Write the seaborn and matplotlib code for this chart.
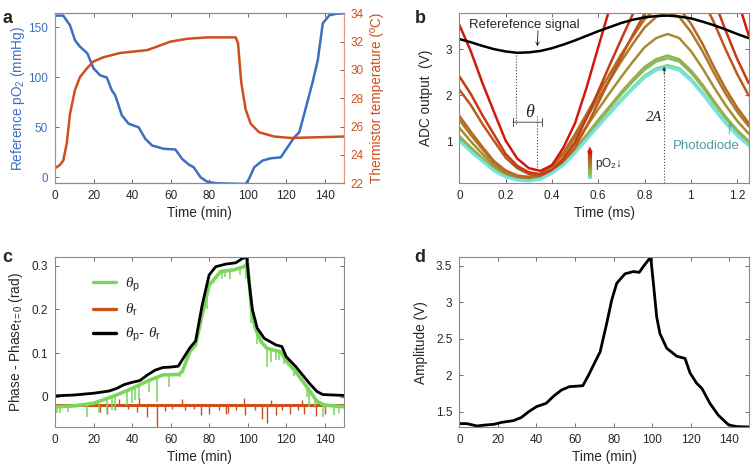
import numpy as np
import pandas as pd
import matplotlib
matplotlib.use('Agg')
import matplotlib.pyplot as plt
import seaborn as sns
from matplotlib.ticker import FuncFormatter
from matplotlib.collections import LineCollection

sns.set_theme(style='ticks')
plt.rcParams['font.family'] = ['Liberation Sans', 'DejaVu Sans']
plt.rcParams['mathtext.fontset'] = 'custom'
plt.rcParams['mathtext.rm'] = 'Liberation Sans'
plt.rcParams['mathtext.it'] = 'Liberation Serif:italic'
plt.rcParams['mathtext.bf'] = 'Liberation Sans:bold'

# ---------------- data ----------------
# a: reference pO2 and thermistor temperature
t_po2 = [0, 4.3, 7.8, 10.4, 13, 16.8, 20, 23.4, 26.9, 29.5, 31.3, 34.7, 38.2, 43.4, 46.9,
         50.4, 56.5, 62.5, 66, 69.5, 72, 75.6, 79, 84, 99, 100.7, 103.4, 107.7, 112,
         117.2, 120.7, 124.2, 126.8, 129.4, 133.7, 136.4, 139, 142.4, 146, 150]
po2 = [161.7, 161.7, 152, 137, 130.6, 124, 109, 102, 99.8, 87, 82, 62, 53.6, 50, 38.5,
       31.8, 28.5, 27.8, 18.4, 12.7, 10, 0, -4.4, -6, -6.7, -1.7, 10, 16.7, 19,
       20, 30, 40, 45, 63.6, 95, 117, 154, 162, 163.5, 164]
t_temp = [0, 2.6, 4.3, 6.1, 7.8, 10.4, 13, 16.5, 20, 25.2, 33.9, 40.8, 47.8, 53, 59.9,
          68.6, 79, 93.8, 95, 96.7, 99, 101.6, 106, 113.8, 122.5, 150]
temp = [23.06, 23.3, 23.6, 24.8, 26.9, 28.6, 29.5, 30.1, 30.6, 30.9, 31.2, 31.3, 31.4,
        31.65, 32.0, 32.2, 32.3, 32.3, 31.9, 29.1, 27.2, 26.2, 25.6, 25.3, 25.2, 25.3]

# b: ADC waveforms (ms)
t_ms = [0.00, 0.05, 0.10, 0.15, 0.20, 0.25, 0.30, 0.35, 0.40, 0.45, 0.50, 0.55, 0.60,
        0.65, 0.70, 0.75, 0.80, 0.85, 0.90, 0.95, 1.00, 1.05, 1.10, 1.15, 1.20, 1.25]
ref_signal = [3.22, 3.15, 3.07, 3.00, 2.95, 2.92, 2.93, 2.96, 3.02, 3.10, 3.19, 3.29, 3.39,
              3.48, 3.57, 3.64, 3.69, 3.72, 3.73, 3.71, 3.67, 3.60, 3.52, 3.43, 3.33, 3.24]
pd_traces = [
    [1.00, 0.77, 0.56, 0.35, 0.22, 0.15, 0.13, 0.17, 0.30, 0.48, 0.74, 1.03, 1.32,
     1.60, 1.88, 2.14, 2.38, 2.54, 2.61, 2.54, 2.32, 2.03, 1.70, 1.39, 1.12, 0.90],
    [1.02, 0.79, 0.57, 0.36, 0.23, 0.16, 0.14, 0.18, 0.31, 0.49, 0.76, 1.05, 1.34,
     1.63, 1.91, 2.17, 2.42, 2.58, 2.65, 2.58, 2.36, 2.06, 1.73, 1.41, 1.14, 0.92],
    [1.08, 0.83, 0.61, 0.39, 0.25, 0.17, 0.15, 0.19, 0.33, 0.52, 0.80, 1.11, 1.42,
     1.72, 2.02, 2.30, 2.55, 2.73, 2.80, 2.73, 2.49, 2.18, 1.83, 1.50, 1.21, 0.97],
    [1.11, 0.86, 0.63, 0.40, 0.26, 0.18, 0.16, 0.20, 0.35, 0.54, 0.82, 1.14, 1.46,
     1.76, 2.07, 2.35, 2.61, 2.78, 2.86, 2.78, 2.54, 2.23, 1.87, 1.53, 1.24, 1.00],
    [1.29, 0.99, 0.72, 0.46, 0.29, 0.21, 0.18, 0.23, 0.40, 0.62, 0.95, 1.32, 1.69,
     2.05, 2.40, 2.73, 3.04, 3.24, 3.33, 3.24, 2.96, 2.59, 2.17, 1.78, 1.44, 1.16],
    [1.46, 1.13, 0.82, 0.52, 0.33, 0.23, 0.20, 0.26, 0.45, 0.71, 1.09, 1.51, 1.93,
     2.33, 2.74, 3.12, 3.47, 3.70, 3.80, 3.70, 3.38, 2.96, 2.48, 2.03, 1.64, 1.32],
    [1.55, 1.20, 0.87, 0.56, 0.36, 0.25, 0.22, 0.28, 0.48, 0.75, 1.15, 1.59, 2.03,
     2.46, 2.89, 3.28, 3.65, 3.89, 4.00, 3.89, 3.56, 3.12, 2.61, 2.14, 1.73, 1.39],
    [2.12, 1.78, 1.37, 1.00, 0.64, 0.41, 0.28, 0.25, 0.32, 0.55, 0.86, 1.32, 1.83,
     2.34, 2.83, 3.32, 3.77, 4.20, 4.48, 4.60, 4.48, 4.09, 3.58, 3.00, 2.46, 1.99],
    [2.41, 2.02, 1.56, 1.14, 0.72, 0.46, 0.32, 0.28, 0.36, 0.62, 0.98, 1.50, 2.08,
     2.66, 3.22, 3.77, 4.29, 4.77, 5.09, 5.23, 5.09, 4.65, 4.07, 3.41, 2.79, 2.26],
    [3.53, 2.95, 2.26, 1.63, 1.01, 0.62, 0.41, 0.35, 0.47, 0.86, 1.39, 2.17, 3.04,
     3.90, 4.74, 5.57, 6.34, 7.06, 7.54, 7.75, 7.54, 6.88, 6.02, 5.03, 4.11, 3.30],
]
trace_colors = ['#74E3E3', '#86D070', '#7DBF62', '#98AE4C', '#A88C34', '#AE7A28',
                '#B56A22', '#BC581D', '#C63A16', '#D01A10']

# c: phase
t_diff = [0, 10, 20, 28, 32, 36, 40, 44, 48, 52, 56, 60, 64, 66, 70, 73, 76.4, 80, 83.4,
          88.6, 93.8, 97.3, 99.5, 100.7, 102.5, 105, 108.6, 114.6, 117.8, 120, 125, 132,
          136, 139, 150]
phase_diff = [0.002, 0.004, 0.008, 0.013, 0.019, 0.028, 0.033, 0.037, 0.050, 0.061, 0.067,
              0.068, 0.070, 0.084, 0.112, 0.128, 0.210, 0.279, 0.298, 0.304, 0.307, 0.317,
              0.320, 0.264, 0.199, 0.157, 0.134, 0.119, 0.115, 0.092, 0.069, 0.031, 0.012,
              0.005, 0.003]
t_p = [0, 10, 20, 32, 40, 48, 56, 64, 66, 70, 73, 76, 80, 86, 93, 98, 100, 102, 104, 107,
       110, 117, 121, 125, 132, 136, 140, 150]
phase_p = [-0.023, -0.021, -0.015, 0.004, 0.019, 0.036, 0.050, 0.051, 0.057, 0.103, 0.119,
           0.180, 0.256, 0.287, 0.291, 0.298, 0.306, 0.200, 0.157, 0.126, 0.111, 0.103,
           0.077, 0.057, 0.015, -0.011, -0.019, -0.023]
spike_p_t = [1.2, 2.6, 7, 16.5, 22.6, 27, 29.5, 31, 37.3, 40, 41.7, 43.4, 48.6, 53, 59, 65,
             79, 82.5, 84, 86.9, 88, 91, 96, 99, 102, 105, 110.3, 112, 114.6, 116.4, 119,
             124, 131, 132, 135, 139, 144, 145, 147.6]
spike_p_v = [-0.038, -0.038, -0.034, -0.046, -0.038, -0.038, -0.031, -0.031, -0.019,
             -0.015, -0.008, -0.005, 0.011, -0.011, 0.023, 0.045, 0.200, 0.260, 0.270,
             0.270, 0.275, 0.270, 0.280, 0.270, 0.170, 0.120, 0.069, 0.080, 0.084, 0.085,
             0.075, 0.047, 0.000, -0.023, -0.025, -0.046, -0.023, -0.042, -0.038]
t_r = [0, 150]
phase_r = [-0.018, -0.018]
spike_r_t = [23.5, 27, 31.3, 33, 38, 42.6, 43.7, 47.8, 53, 57.3, 61, 66, 67.7, 72, 75.6,
             79.9, 85, 88.6, 90, 94, 98.3, 98.6, 104, 107.7, 110.3, 112, 114.6, 118, 122,
             126, 128, 129.4, 135.5, 140]
spike_r_v = [-0.034, -0.040, -0.031, -0.005, -0.028, -0.036, -0.003, -0.046, -0.073,
             -0.033, -0.028, -0.005, -0.031, -0.028, -0.042, -0.040, -0.030, -0.039,
             -0.038, -0.030, -0.004, -0.042, -0.030, -0.050, -0.061, -0.008, -0.042,
             -0.030, -0.039, -0.030, -0.008, -0.040, -0.045, -0.040]

# d: amplitude
t_amp = [0, 4, 9, 14, 18, 22, 28, 32, 36, 40, 45, 49, 53, 57, 64, 67, 70, 73, 76.4, 79,
         81.6, 85.9, 90.2, 93.3, 95.4, 99.2, 100.6, 102.3, 104, 107.5, 112.7, 117, 119.6,
         123, 125.7, 130, 134.3, 139.5, 143.8, 150]
amp = [1.336, 1.336, 1.304, 1.318, 1.327, 1.354, 1.377, 1.418, 1.50, 1.569, 1.614, 1.715,
       1.797, 1.842, 1.856, 2.0, 2.162, 2.32, 2.71, 3.03, 3.26, 3.39, 3.42, 3.41, 3.49,
       3.62, 3.26, 2.80, 2.57, 2.37, 2.26, 2.23, 2.03, 1.89, 1.82, 1.61, 1.45, 1.32,
       1.295, 1.29]

BLUE = '#3C6EC4'
RED = '#CF4F1C'
GREEN = '#7BD65C'
SPINE = '#8a8a8a'
TICK_FS = 8.5
LAB_FS = 9.8
fmt = FuncFormatter(lambda v, p: f'{v:g}')


def style(ax, right=True):
    for s in ax.spines.values():
        s.set_color(SPINE)
        s.set_linewidth(0.8)
        s.set_visible(True)
    ax.tick_params(direction='in', length=3, width=0.6, color='#555555', labelsize=TICK_FS,
                   labelcolor='#262626', top=True, right=right, pad=5)
    ax.xaxis.set_major_formatter(fmt)
    ax.yaxis.set_major_formatter(fmt)


fig = plt.figure(figsize=(7.52, 4.70), dpi=100)

# ================= a =================
ax_a = fig.add_axes([0.0731, 0.610, 0.3843, 0.3617])
sns.lineplot(x=t_po2, y=po2, ax=ax_a, color=BLUE, lw=1.8)
ax_a.set_xlim(0, 150)
ax_a.set_ylim(-6, 164)
ax_a.set_xticks([0, 20, 40, 60, 80, 100, 120, 140])
ax_a.set_yticks([0, 50, 100, 150])
style(ax_a, right=False)
ax_a.tick_params(axis='y', labelcolor=BLUE)
ax_a.spines['left'].set_color('#7d9fd6')
ax_a.set_xlabel('Time (min)', fontsize=LAB_FS, labelpad=3)
ax_a.set_ylabel(r'Reference pO$_{\rm 2}$ (mmHg)', fontsize=LAB_FS, color=BLUE, labelpad=1)

ax_a2 = ax_a.twinx()
sns.lineplot(x=t_temp, y=temp, ax=ax_a2, color=RED, lw=1.8)
ax_a2.set_ylim(22, 34)
ax_a2.set_yticks([22, 24, 26, 28, 30, 32, 34])
for s in ax_a2.spines.values():
    s.set_color(SPINE)
    s.set_linewidth(0.8)
ax_a2.spines['right'].set_color('#e09a7c')
ax_a2.spines['left'].set_color('#7d9fd6')
ax_a2.tick_params(direction='in', length=3, width=0.6, color='#555555', labelsize=TICK_FS,
                  labelcolor=RED, pad=5)
ax_a2.set_ylabel('Thermistor temperature (ºC)', fontsize=LAB_FS, color=RED, labelpad=4)

# ================= b =================
ax_b = fig.add_axes([0.6108, 0.610, 0.3848, 0.3617])
rows = []
for k, tr in enumerate(pd_traces):
    for t, v in zip(t_ms, tr):
        rows.append({'t': t, 'v': v, 'trace': k})
df_b = pd.DataFrame(rows)
# the other traces first, the cyan (highest pO2) one on top
sns.lineplot(data=df_b[df_b['trace'] > 0], x='t', y='v', hue='trace',
             palette=trace_colors[1:], ax=ax_b, lw=1.8, legend=False)
sns.lineplot(data=df_b[df_b['trace'] == 0], x='t', y='v', color=trace_colors[0], ax=ax_b,
             lw=2.2)
sns.lineplot(x=t_ms, y=ref_signal, ax=ax_b, color='black', lw=1.8)
ax_b.set_xlim(0, 1.25)
ax_b.set_ylim(0.08, 3.78)
ax_b.set_xticks([0, 0.2, 0.4, 0.6, 0.8, 1.0, 1.2])
ax_b.set_yticks([1, 2, 3])
style(ax_b)
ax_b.set_xlabel('Time (ms)', fontsize=LAB_FS, labelpad=3)
ax_b.set_ylabel('ADC output  (V)', fontsize=LAB_FS, labelpad=9)

ax_b.text(0.04, 3.53, 'Referefence signal', fontsize=9.5, ha='left', va='center')
ax_b.annotate('', xy=(0.337, 3.06), xytext=(0.34, 3.40),
              arrowprops=dict(arrowstyle='->', lw=0.6, color='k', shrinkA=0, shrinkB=0,
                              mutation_scale=6))
dot = dict(ls=':', color='#444444', lw=0.8)
ax_b.plot([0.246, 0.246], [2.88, 1.36], **dot)
ax_b.plot([0.335, 0.335], [1.55, 0.37], **dot)
ax_b.annotate('', xy=(0.232, 1.41), xytext=(0.356, 1.41),
              arrowprops=dict(arrowstyle='|-|, widthA=0.25, widthB=0.25', lw=0.6,
                              color='#333333', shrinkA=0, shrinkB=0))
ax_b.text(0.305, 1.62, r'$\theta$', fontsize=13, ha='center', va='center')
ax_b.plot([0.885, 0.885], [0.08, 2.56], **dot)
ax_b.annotate('', xy=(0.885, 2.62), xytext=(0.885, 2.45),
              arrowprops=dict(arrowstyle='-|>', lw=0.6, color='#333333', shrinkA=0,
                              shrinkB=0, mutation_scale=5))
ax_b.text(0.842, 1.51, '2A', fontsize=10.5, fontstyle='italic', family='Liberation Serif',
          ha='center', va='center')
ax_b.text(0.922, 0.89, 'Photodiode', fontsize=9.5, color='#4E9C9C', ha='left', va='center')
ax_b.annotate('', xy=(1.172, 1.40), xytext=(1.165, 1.16),
              arrowprops=dict(arrowstyle='->', lw=0.6, color='#4E9C9C', shrinkA=0,
                              shrinkB=0, mutation_scale=5))
# gradient arrow for pO2
ys = np.linspace(0.17, 0.76, 30)
segs = [[(0.564, ys[i]), (0.564, ys[i + 1])] for i in range(len(ys) - 1)]
cmap = matplotlib.colors.LinearSegmentedColormap.from_list('po2', trace_colors)
lc = LineCollection(segs, colors=[cmap(i / (len(segs) - 1)) for i in range(len(segs))],
                    linewidths=3)
ax_b.add_collection(lc)
ax_b.annotate('', xy=(0.564, 0.88), xytext=(0.564, 0.72),
              arrowprops=dict(arrowstyle='-|>', lw=0.1, color=trace_colors[-1],
                              shrinkA=0, shrinkB=0, mutation_scale=10))
ax_b.text(0.588, 0.49, 'pO$_{\\rm 2}$↓', fontsize=8.5, ha='left', va='center')

# ================= c =================
ax_c = fig.add_axes([0.0731, 0.0909, 0.3843, 0.3629])
sns.lineplot(x=t_r, y=phase_r, ax=ax_c, color=RED, lw=2.2, label=r'$\theta_{\rm r}$')
ax_c.vlines(spike_r_t, phase_r[0], spike_r_v, color=RED, lw=1.0)
sns.lineplot(x=t_p, y=phase_p, ax=ax_c, color=GREEN, lw=2.6, label=r'$\theta_{\rm p}$')
ax_c.vlines(spike_p_t, np.interp(spike_p_t, t_p, phase_p), spike_p_v, color=GREEN, lw=1.1)
sns.lineplot(x=t_diff, y=phase_diff, ax=ax_c, color='black', lw=2.0,
             label=r'$\theta_{\rm p}$- $\theta_{\rm r}$')
ax_c.set_xlim(0, 150)
ax_c.set_ylim(-0.07, 0.321)
ax_c.set_xticks([0, 20, 40, 60, 80, 100, 120, 140])
ax_c.set_yticks([0, 0.1, 0.2, 0.3])
style(ax_c)
ax_c.set_xlabel('Time (min)', fontsize=LAB_FS, labelpad=3)
ax_c.set_ylabel(r'Phase - Phase$_{\rm t=0}$ (rad)', fontsize=LAB_FS, labelpad=5)
h, l = ax_c.get_legend_handles_labels()
order = [1, 0, 2]
leg = ax_c.legend([h[i] for i in order], [l[i] for i in order], frameon=False,
                  fontsize=11, loc='upper left', bbox_to_anchor=(0.085, 0.97),
                  handlelength=1.5, labelspacing=0.55, handletextpad=0.6)
for ln in leg.get_lines():
    ln.set_linewidth(2.4)

# ================= d =================
ax_d = fig.add_axes([0.6108, 0.0909, 0.3848, 0.3623])
sns.lineplot(x=t_amp, y=amp, ax=ax_d, color='black', lw=2.0)
ax_d.set_xlim(0, 150)
ax_d.set_ylim(1.286, 3.62)
ax_d.set_xticks([0, 20, 40, 60, 80, 100, 120, 140])
ax_d.set_yticks([1.5, 2, 2.5, 3, 3.5])
style(ax_d)
ax_d.set_xlabel('Time (min)', fontsize=LAB_FS, labelpad=3)
ax_d.set_ylabel('Amplitude (V)', fontsize=LAB_FS, labelpad=6)

# panel letters
for x, y, s in [(0.003, 0.978, 'a'), (0.551, 0.978, 'b'), (0.003, 0.470, 'c'),
                (0.551, 0.470, 'd')]:
    fig.text(x, y, s, fontsize=13, fontweight='bold', va='top', ha='left')

fig.savefig('out.png', dpi=100)
